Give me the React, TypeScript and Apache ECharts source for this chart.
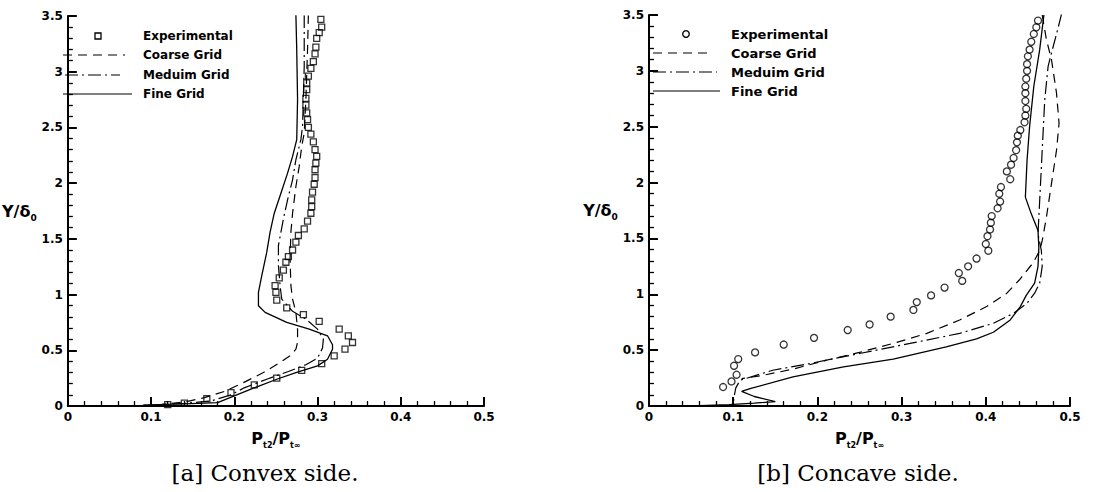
import React, { useEffect, useRef } from "react";
import * as echarts from "echarts";

// ---------- data (x = Pt2/Pt∞, y = Y/δ0) ----------
const xTicks = [0, 0.1, 0.2, 0.3, 0.4, 0.5];
const yTicks = [0, 0.5, 1, 1.5, 2, 2.5, 3, 3.5];

const legendNames = ["Experimental", "Coarse Grid", "Meduim Grid", "Fine Grid"];
const captions = ["[a] Convex side.", "[b] Concave side."];

// Convex side
const convexExp = [
  [0.304, 3.47], [0.305, 3.4], [0.302, 3.35], [0.299, 3.3], [0.298, 3.22], [0.297, 3.16],
  [0.295, 3.09], [0.292, 3.03], [0.289, 2.96], [0.287, 2.9], [0.287, 2.84], [0.286, 2.76],
  [0.286, 2.7], [0.287, 2.63], [0.288, 2.57], [0.289, 2.5], [0.292, 2.44], [0.295, 2.37],
  [0.297, 2.3], [0.299, 2.24], [0.298, 2.18], [0.297, 2.12], [0.297, 2.05], [0.296, 1.99],
  [0.294, 1.92], [0.293, 1.85], [0.293, 1.79], [0.292, 1.73], [0.288, 1.66], [0.284, 1.59],
  [0.277, 1.53], [0.274, 1.47], [0.27, 1.4], [0.265, 1.34], [0.262, 1.29], [0.259, 1.22],
  [0.254, 1.15], [0.249, 1.08], [0.25, 1.02], [0.251, 0.95], [0.263, 0.88], [0.283, 0.82],
  [0.302, 0.76], [0.326, 0.69], [0.337, 0.63], [0.342, 0.57], [0.333, 0.51], [0.32, 0.45],
  [0.305, 0.38], [0.281, 0.32], [0.251, 0.25], [0.224, 0.19], [0.196, 0.12], [0.167, 0.066],
  [0.14, 0.025], [0.12, 0.012],
];
const convexCoarse = [
  [0.289, 3.51], [0.288, 3.2], [0.286, 2.75], [0.284, 2.45], [0.281, 2.33], [0.278, 2.15],
  [0.274, 1.97], [0.27, 1.73], [0.268, 1.56], [0.267, 1.32], [0.268, 1.08], [0.27, 0.96],
  [0.274, 0.84], [0.276, 0.69], [0.276, 0.57], [0.274, 0.51], [0.267, 0.45], [0.255, 0.39],
  [0.235, 0.3], [0.211, 0.21], [0.188, 0.13], [0.164, 0.075], [0.141, 0.036], [0.113, 0.015],
  [0.09, 0.006],
];
const convexMedium = [
  [0.284, 3.51], [0.284, 3.05], [0.282, 2.51], [0.28, 2.39], [0.274, 2.21], [0.27, 2.03],
  [0.264, 1.85], [0.259, 1.68], [0.253, 1.44], [0.253, 1.26], [0.255, 1.08], [0.257, 0.96],
  [0.27, 0.85], [0.286, 0.78], [0.3, 0.69], [0.307, 0.6], [0.306, 0.52], [0.3, 0.43],
  [0.286, 0.37], [0.265, 0.31], [0.239, 0.24], [0.211, 0.16], [0.196, 0.1], [0.172, 0.045],
  [0.141, 0.024], [0.113, 0.012], [0.09, 0.006],
];
const convexFine = [
  [0.274, 3.51], [0.275, 3.2], [0.276, 2.75], [0.275, 2.39], [0.27, 2.24], [0.264, 2.09],
  [0.256, 1.91], [0.248, 1.73], [0.243, 1.56], [0.239, 1.38], [0.233, 1.17], [0.229, 1.02],
  [0.229, 0.9], [0.237, 0.84], [0.263, 0.75], [0.29, 0.69], [0.312, 0.63], [0.318, 0.55],
  [0.318, 0.51], [0.312, 0.42], [0.3, 0.36], [0.274, 0.3], [0.251, 0.24], [0.223, 0.16],
  [0.2, 0.09], [0.18, 0.03], [0.148, 0.022], [0.117, 0.014], [0.09, 0.006],
];

// Concave side
const concaveExp = [
  [0.462, 3.45], [0.46, 3.39], [0.457, 3.33], [0.454, 3.26], [0.452, 3.19], [0.45, 3.13],
  [0.449, 3.06], [0.449, 3.0], [0.448, 2.93], [0.447, 2.86], [0.447, 2.8], [0.447, 2.73],
  [0.448, 2.66], [0.447, 2.6], [0.446, 2.54], [0.441, 2.47], [0.438, 2.42], [0.437, 2.36],
  [0.436, 2.29], [0.433, 2.22], [0.43, 2.16], [0.425, 2.1], [0.429, 2.03], [0.418, 1.96],
  [0.416, 1.9], [0.417, 1.83], [0.414, 1.77], [0.407, 1.7], [0.406, 1.64], [0.405, 1.58],
  [0.402, 1.52], [0.4, 1.45], [0.403, 1.39], [0.389, 1.32], [0.379, 1.25], [0.368, 1.19],
  [0.372, 1.12], [0.351, 1.06], [0.335, 0.99], [0.318, 0.93], [0.314, 0.86], [0.287, 0.8],
  [0.262, 0.73], [0.236, 0.68], [0.196, 0.61], [0.16, 0.55], [0.126, 0.48], [0.106, 0.42],
  [0.101, 0.36], [0.104, 0.28], [0.098, 0.22], [0.088, 0.17],
];
const concaveCoarse = [
  [0.467, 3.5], [0.472, 3.28], [0.478, 3.1], [0.484, 2.8], [0.487, 2.53], [0.484, 2.29],
  [0.478, 1.99], [0.472, 1.69], [0.467, 1.48], [0.464, 1.39], [0.456, 1.28], [0.44, 1.13],
  [0.425, 1.01], [0.401, 0.89], [0.369, 0.77], [0.33, 0.65], [0.29, 0.56], [0.25, 0.48],
  [0.211, 0.41], [0.171, 0.33], [0.132, 0.27], [0.11, 0.245],
];
const concaveMedium = [
  [0.49, 3.51], [0.484, 3.33], [0.478, 3.16], [0.474, 3.04], [0.47, 2.74], [0.468, 2.44],
  [0.466, 2.14], [0.464, 1.84], [0.462, 1.54], [0.466, 1.39], [0.467, 1.25], [0.464, 1.1],
  [0.458, 1.01], [0.449, 0.92], [0.433, 0.83], [0.409, 0.74], [0.369, 0.65], [0.31, 0.56],
  [0.25, 0.47], [0.191, 0.38], [0.147, 0.32], [0.108, 0.23], [0.103, 0.16], [0.101, 0.08],
  [0.1, 0.02],
];
const concaveFine = [
  [0.469, 3.5], [0.464, 3.19], [0.457, 2.86], [0.452, 2.5], [0.449, 2.2], [0.447, 1.87],
  [0.454, 1.72], [0.462, 1.57], [0.463, 1.42], [0.462, 1.25], [0.458, 1.1], [0.448, 0.99],
  [0.441, 0.89], [0.429, 0.77], [0.409, 0.66], [0.389, 0.6], [0.353, 0.53], [0.29, 0.42],
  [0.231, 0.35], [0.171, 0.26], [0.12, 0.155], [0.11, 0.13], [0.125, 0.085], [0.15, 0.04],
  [0.125, 0.025], [0.095, 0.012], [0.06, 0.004],
];

// ---------- styles ----------
const FONT = "DejaVu Sans";
const BLACK = "#000";
const DASH = [9, 6];
const DASHDOT = [13, 4, 2, 4];

const fmt = (v: number) => String(+v.toFixed(1));

function tickCfg() {
  return {
    axisLine: { show: true, onZero: false, lineStyle: { color: BLACK, width: 2 } },
    axisTick: { show: true, inside: true, length: 9, lineStyle: { color: BLACK, width: 2 } },
    minorTick: { show: true, splitNumber: 5, length: 5, lineStyle: { color: BLACK, width: 1.3 } },
    splitLine: { show: false },
    axisLabel: { color: BLACK, fontFamily: FONT, fontWeight: "bold", fontSize: 12, margin: 5, formatter: fmt },
  };
}

function xAxisCfg(gridIndex: number) {
  return {
    gridIndex,
    type: "value",
    min: xTicks[0],
    max: xTicks[xTicks.length - 1],
    interval: 0.1,
    ...tickCfg(),
    name: "P{s|t2}/P{s|t\u221e}",
    nameLocation: "middle",
    nameGap: 20,
    nameTextStyle: {
      color: BLACK, fontFamily: FONT, fontWeight: "bold", fontSize: 16, lineHeight: 22,
      rich: { s: { fontFamily: FONT, fontWeight: "bold", fontSize: 8, color: BLACK, verticalAlign: "bottom" } },
    },
  };
}
function yAxisCfg(gridIndex: number) {
  return {
    gridIndex,
    type: "value",
    min: yTicks[0],
    max: yTicks[yTicks.length - 1],
    interval: 0.5,
    ...tickCfg(),
    name: "Y/\u03b4{s|0}",
    nameLocation: "middle",
    nameRotate: 0,
    nameGap: 14,
    nameTextStyle: {
      color: BLACK, fontFamily: FONT, fontWeight: "bold", fontSize: 16, lineHeight: 22,
      rich: { s: { fontFamily: FONT, fontWeight: "bold", fontSize: 9, color: BLACK, verticalAlign: "bottom" } },
    },
  };
}

function lineSeries(idx: number, data: number[][], type: any, width = 1.2) {
  return {
    type: "line", xAxisIndex: idx, yAxisIndex: idx, data, symbol: "none", showSymbol: false,
    lineStyle: { color: BLACK, width, type }, z: 2,
  };
}
function scatterSeries(idx: number, data: number[][], symbol: string, size: number) {
  return {
    type: "scatter", xAxisIndex: idx, yAxisIndex: idx, data, symbol, symbolSize: size,
    itemStyle: { color: "rgba(0,0,0,0)", borderColor: BLACK, borderWidth: 1.3 }, z: 3,
  };
}

function legendGraphics(rows: number[], textX: number, fontSize: number, marker: any, lines: number[][]) {
  const els: any[] = [marker];
  const styles = [DASH, DASHDOT, null];
  for (let i = 0; i < 3; i++) {
    els.push({
      type: "line",
      shape: { x1: lines[i][0], y1: rows[i + 1], x2: lines[i][1], y2: rows[i + 1] },
      style: { stroke: BLACK, lineWidth: 1.2, lineDash: styles[i] || undefined },
    });
  }
  legendNames.forEach((n, i) => {
    els.push({
      type: "text", x: textX, y: rows[i],
      style: { text: n, font: `bold ${fontSize}px "${FONT}"`, fill: BLACK, textAlign: "left", textVerticalAlign: "middle" },
    });
  });
  return els;
}

export default function App() {
  const ref = useRef<HTMLDivElement>(null);
  useEffect(() => {
    if (!ref.current) return;
    const chart = echarts.init(ref.current, null, { renderer: "svg" });
    const leftRows = [36, 55, 75, 94];
    const rightRows = [34, 53, 72, 91];
    chart.setOption({
      animation: false,
      backgroundColor: "#fff",
      grid: [
        { left: 61, top: 16, width: 423, height: 390, containLabel: false },
        { left: 649, top: 15, width: 421, height: 391, containLabel: false },
      ],
      xAxis: [xAxisCfg(0), xAxisCfg(1)],
      yAxis: [yAxisCfg(0), yAxisCfg(1)],
      series: [
        scatterSeries(0, convexExp, "rect", 6),
        lineSeries(0, convexCoarse, DASH),
        lineSeries(0, convexMedium, DASHDOT),
        lineSeries(0, convexFine, "solid", 1.3),
        scatterSeries(1, concaveExp, "circle", 7),
        lineSeries(1, concaveCoarse, DASH),
        lineSeries(1, concaveMedium, DASHDOT),
        lineSeries(1, concaveFine, "solid", 1.3),
      ],
      graphic: [
        ...legendGraphics(leftRows, 143, 12,
          { type: "rect", shape: { x: 95, y: 33, width: 6, height: 6 }, style: { fill: "none", stroke: BLACK, lineWidth: 1.3 } },
          [[63, 125], [65, 120], [63, 132]]),
        ...legendGraphics(rightRows, 731, 13,
          { type: "circle", shape: { cx: 686, cy: 34, r: 3.3 }, style: { fill: "none", stroke: BLACK, lineWidth: 1.3 } },
          [[653, 713], [653, 717], [653, 720]]),
        {
          type: "text", x: 265, y: 473,
          style: { text: captions[0], font: `23px "DejaVu Serif"`, fill: BLACK, textAlign: "center", textVerticalAlign: "middle" },
        },
        {
          type: "text", x: 858, y: 473,
          style: { text: captions[1], font: `23px "DejaVu Serif"`, fill: BLACK, textAlign: "center", textVerticalAlign: "middle" },
        },
      ],
    });
    return () => chart.dispose();
  }, []);
  return (
    <div
      ref={ref}
      style={{ position: "fixed", left: 0, top: 0, width: 1119, height: 492, background: "#fff" }}
    />
  );
}
